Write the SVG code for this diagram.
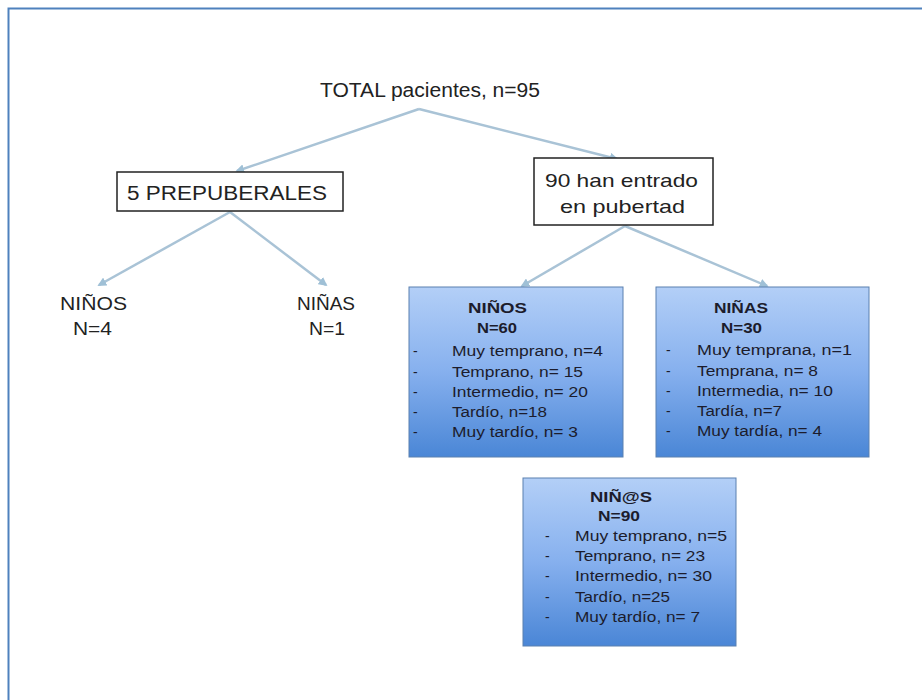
<svg xmlns="http://www.w3.org/2000/svg" width="922" height="700" viewBox="0 0 922 700">
<defs>
<linearGradient id="blue" x1="0" y1="0" x2="0" y2="1">
<stop offset="0" stop-color="#b3cff7"/>
<stop offset="0.5" stop-color="#86b0ee"/>
<stop offset="1" stop-color="#4a86d6"/>
</linearGradient>
<marker id="ah" viewBox="0 0 10 10" refX="8" refY="5" markerWidth="3.6" markerHeight="3.6" orient="auto">
<path d="M0,0 L10,5 L0,10 Z" fill="#9fc0d6"/>
</marker>
</defs>
<style>
.t{font-family:"Liberation Sans",Arial,sans-serif;fill:#222;}
.b{font-family:"Liberation Sans",Arial,sans-serif;fill:#1c1c2c;font-size:14px;}
.h{font-family:"Liberation Sans",Arial,sans-serif;fill:#1c1c2c;font-size:15px;font-weight:bold;}
.plain{fill:#fff;stroke:#222;stroke-width:1.5;}
.blue{fill:url(#blue);stroke:#5a80b0;stroke-width:1;}
.c{fill:none;stroke:#a9c3d6;stroke-width:2.5;marker-end:url(#ah);}
</style>
<rect x="0" y="0" width="922" height="700" fill="#fff"/>
<rect x="8.5" y="8.5" width="1000" height="1000" fill="none" stroke="#4f81bd" stroke-width="2"/>

<g id="connectors">
<line class="c" x1="419" y1="109" x2="237" y2="171"/>
<line class="c" x1="419" y1="109" x2="617" y2="159"/>
<line class="c" x1="230" y1="212" x2="99" y2="285"/>
<line class="c" x1="230" y1="212" x2="326" y2="285"/>
<line class="c" x1="625" y1="226" x2="522" y2="286"/>
<line class="c" x1="625" y1="226" x2="767" y2="286"/>
</g>

<g id="total">
<text class="t" x="320" y="97" font-size="20" textLength="220" lengthAdjust="spacingAndGlyphs">TOTAL pacientes, n=95</text>
</g>

<g id="prepuberales">
<rect class="plain" x="117" y="172" width="226" height="39"/>
<text class="t" x="127" y="200" font-size="20" textLength="200" lengthAdjust="spacingAndGlyphs">5 PREPUBERALES</text>
</g>

<g id="pubertad">
<rect class="plain" x="534" y="158" width="179" height="67"/>
<text class="t" x="545" y="187" font-size="19" textLength="153" lengthAdjust="spacingAndGlyphs">90 han entrado</text>
<text class="t" x="560" y="213" font-size="19" textLength="125" lengthAdjust="spacingAndGlyphs">en pubertad</text>
</g>

<g id="ninos-pre">
<text class="t" x="60" y="310" font-size="18" textLength="67" lengthAdjust="spacingAndGlyphs">NIÑOS</text>
<text class="t" x="73" y="335" font-size="18" textLength="39" lengthAdjust="spacingAndGlyphs">N=4</text>
</g>

<g id="ninas-pre">
<text class="t" x="297" y="310" font-size="18" textLength="58" lengthAdjust="spacingAndGlyphs">NIÑAS</text>
<text class="t" x="309" y="335" font-size="18" textLength="36" lengthAdjust="spacingAndGlyphs">N=1</text>
</g>

<g id="ninos-box">
<rect class="blue" x="409" y="287" width="214" height="170"/>
<text class="h" x="468" y="313" textLength="59" lengthAdjust="spacingAndGlyphs">NIÑOS</text>
<text class="h" x="477" y="333" textLength="40" lengthAdjust="spacingAndGlyphs">N=60</text>
<g class="b">
<text x="413" y="356">-</text><text x="452" y="356" textLength="151" lengthAdjust="spacingAndGlyphs">Muy temprano, n=4</text>
<text x="413" y="377">-</text><text x="452" y="377" textLength="131" lengthAdjust="spacingAndGlyphs">Temprano, n= 15</text>
<text x="413" y="397">-</text><text x="452" y="397" textLength="136" lengthAdjust="spacingAndGlyphs">Intermedio, n= 20</text>
<text x="413" y="417">-</text><text x="452" y="417" textLength="95" lengthAdjust="spacingAndGlyphs">Tardío, n=18</text>
<text x="413" y="437">-</text><text x="452" y="437" textLength="126" lengthAdjust="spacingAndGlyphs">Muy tardío, n= 3</text>
</g>
</g>

<g id="ninas-box">
<rect class="blue" x="656" y="287" width="213" height="170"/>
<text class="h" x="714" y="313" textLength="54" lengthAdjust="spacingAndGlyphs">NIÑAS</text>
<text class="h" x="721" y="333" textLength="41" lengthAdjust="spacingAndGlyphs">N=30</text>
<g class="b">
<text x="666" y="355">-</text><text x="697" y="355" textLength="155" lengthAdjust="spacingAndGlyphs">Muy temprana, n=1</text>
<text x="666" y="376">-</text><text x="697" y="376" textLength="121" lengthAdjust="spacingAndGlyphs">Temprana, n= 8</text>
<text x="666" y="396">-</text><text x="697" y="396" textLength="136" lengthAdjust="spacingAndGlyphs">Intermedia, n= 10</text>
<text x="666" y="416">-</text><text x="697" y="416" textLength="85" lengthAdjust="spacingAndGlyphs">Tardía, n=7</text>
<text x="666" y="436">-</text><text x="697" y="436" textLength="125" lengthAdjust="spacingAndGlyphs">Muy tardía, n= 4</text>
</g>
</g>

<g id="total-box">
<rect class="blue" x="523" y="478" width="213" height="168"/>
<text class="h" x="590" y="502" textLength="62" lengthAdjust="spacingAndGlyphs">NIÑ@S</text>
<text class="h" x="598" y="521" textLength="42" lengthAdjust="spacingAndGlyphs">N=90</text>
<g class="b">
<text x="545" y="541">-</text><text x="575" y="541" textLength="152" lengthAdjust="spacingAndGlyphs">Muy temprano, n=5</text>
<text x="545" y="561">-</text><text x="575" y="561" textLength="130" lengthAdjust="spacingAndGlyphs">Temprano, n= 23</text>
<text x="545" y="581">-</text><text x="575" y="581" textLength="137" lengthAdjust="spacingAndGlyphs">Intermedio, n= 30</text>
<text x="545" y="602">-</text><text x="575" y="602" textLength="95" lengthAdjust="spacingAndGlyphs">Tardío, n=25</text>
<text x="545" y="622">-</text><text x="575" y="622" textLength="125" lengthAdjust="spacingAndGlyphs">Muy tardío, n= 7</text>
</g>
</g>
</svg>
